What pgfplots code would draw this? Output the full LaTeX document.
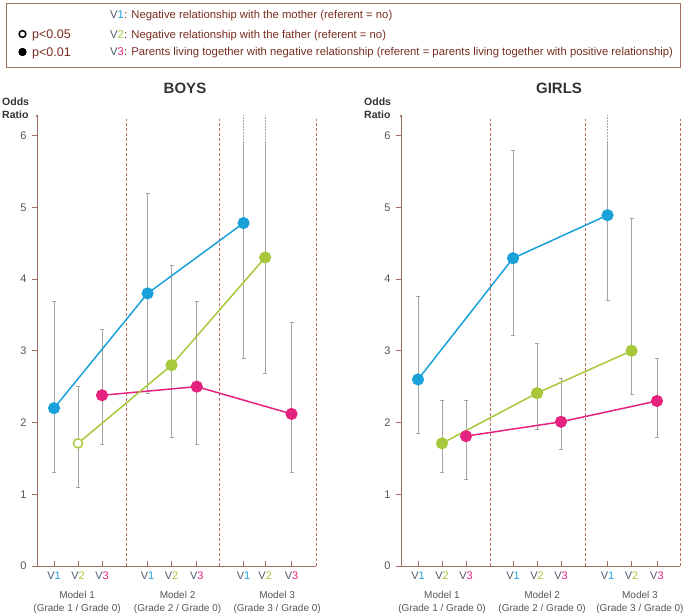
\documentclass[border=0pt]{standalone}
\usepackage{pgfplots}
\pgfplotsset{compat=1.18}
\usepackage{fontspec}
\setmainfont{Liberation Sans}
\usetikzlibrary{arrows.meta}

\definecolor{vone}{RGB}{27,161,217}
\definecolor{vtwo}{RGB}{166,200,58}
\definecolor{vthree}{RGB}{229,34,127}
\definecolor{cigray}{RGB}{165,165,165}
\definecolor{axbrown}{RGB}{160,112,95}
\definecolor{dashred}{RGB}{192,110,95}
\definecolor{legtext}{RGB}{120,45,30}
\definecolor{vgray}{RGB}{75,90,110}
\definecolor{labgray}{RGB}{85,85,85}

\newcommand{\vlab}[2]{{\color{vgray}V}{\color{#1}#2}}

\tikzset{mlab/.style={align=center, font=\fontsize{10}{13.5}\selectfont, text=labgray}}

\pgfplotsset{
  panel/.style={
    scale only axis, width=279pt, height=452pt,
    xmin=-0.71, xmax=10.92, ymin=0, ymax=6.3,
    clip=false,
    axis x line*=bottom, axis y line*=left,
    axis line style={draw=axbrown, line width=0.8pt},
    y axis line style={-{Latex[length=3pt,width=3pt]}},
    ytick={0,1,...,6},
    tick align=outside, major tick length=5pt,
    tick style={draw=axbrown, line width=0.6pt},
    xtick style={yshift=5pt},
    tick label style={font=\fontsize{11}{12}\selectfont, text=labgray},
    xticklabel style={yshift=3pt},
    yticklabel style={xshift=-2pt},
    /pgf/number format/assume math mode=true,
    xticklabels={\vlab{vone}{1},\vlab{vtwo}{2},\vlab{vthree}{3},
                 \vlab{vone}{1},\vlab{vtwo}{2},\vlab{vthree}{3},
                 \vlab{vone}{1},\vlab{vtwo}{2},\vlab{vthree}{3}},
  },
  sep/.style={dashred, line width=0.8pt, dash pattern=on 3pt off 2pt},
  ci/.style={cigray, line width=0.8pt, mark=-, mark size=2pt,
             mark options={solid, line width=0.6pt}},
  cidot/.style={cigray, line width=0.8pt, dash pattern=on 1.5pt off 1.5pt},
  ser/.style={line width=1.5pt, mark=*, mark size=5.3pt},
}

\begin{document}
\begin{tikzpicture}
\path[use as bounding box] (0pt,0pt) rectangle (685pt,-613pt);

% key box
\draw[axbrown, line width=0.6pt] (6pt,-3pt) rectangle (680pt,-67pt);
\draw[black, line width=1.5pt] (22.5pt,-34pt) circle (3.4pt);
\fill[black] (22.5pt,-52pt) circle (4.2pt);
\begin{scope}[every node/.style={anchor=base west, inner sep=0pt, text=legtext}]
\node[font=\fontsize{12.5}{14}\selectfont] at (32pt,-38.5pt) {p<0.05};
\node[font=\fontsize{12.5}{14}\selectfont] at (32pt,-56pt) {p<0.01};
\begin{scope}[every node/.append style={font=\fontsize{11.3}{13}\selectfont}]
\node at (110pt,-18pt) {\vlab{vone}{1}: Negative relationship with the mother (referent = no)};
\node at (110pt,-38pt) {\vlab{vtwo}{2}: Negative relationship with the father (referent = no)};
\node at (110pt,-55pt) {\vlab{vthree}{3}: Parents living together with negative relationship (referent = parents living together with positive relationship)};
\end{scope}
\end{scope}

% titles
\node[font=\fontsize{15}{18}\bfseries\selectfont, text=black!80] at (185pt,-88pt) {BOYS};
\node[font=\fontsize{15}{18}\bfseries\selectfont, text=black!80] at (559pt,-88pt) {GIRLS};
\begin{scope}[every node/.style={anchor=base west, inner sep=0pt, font=\fontsize{10.5}{12}\bfseries\selectfont, text=black!80}]
\node at (2pt,-105pt) {Odds};
\node at (2pt,-118pt) {Ratio};
\node at (364pt,-105pt) {Odds};
\node at (364pt,-118pt) {Ratio};
\end{scope}

% ---------------- BOYS ----------------
\begin{axis}[panel, at={(37pt,-566pt)}, anchor=south west,
  xtick={0,1,2,3.9,4.9,5.95,7.9,8.8,9.9}]
\addplot[sep] coordinates {(3,0) (3,6.23)};
\addplot[sep] coordinates {(6.9,0) (6.9,6.23)};
\addplot[sep] coordinates {(10.92,0) (10.92,6.23)};

\addplot[ci, unbounded coords=jump] coordinates {
  (0,1.3) (0,3.69) (0,nan)
  (1,1.1) (1,2.5) (1,nan)
  (2,1.7) (2,3.3) (2,nan)
  (3.9,2.41) (3.9,5.2) (3.9,nan)
  (4.9,1.8) (4.9,4.19) (4.9,nan)
  (5.95,1.7) (5.95,3.69) (5.95,nan)
  (9.9,1.3) (9.9,3.4)
};
\addplot[ci, mark indices={1}] coordinates {(7.9,2.9) (7.9,5.9)};
\addplot[ci, mark indices={1}] coordinates {(8.8,2.69) (8.8,5.9)};
\addplot[cidot] coordinates {(7.9,5.9) (7.9,6.28)};
\addplot[cidot] coordinates {(8.8,5.9) (8.8,6.28)};

\addplot[ser, vthree] coordinates {(2,2.38) (5.95,2.5) (9.9,2.12)};
\addplot[ser, vtwo] coordinates {(4.9,2.8) (8.8,4.3)};
\addplot[vtwo, line width=1.5pt, shorten <=5.3pt] coordinates {(1,1.71) (4.9,2.8)};
\addplot[vtwo, line width=1.4pt, mark=*, mark size=4.6pt,
  mark options={fill=white}, only marks] coordinates {(1,1.71)};
\addplot[ser, vone] coordinates {(0,2.2) (3.9,3.8) (7.9,4.78)};

\node[mlab] at (axis cs:0.96,-0.51) {Model 1\\(Grade 1 / Grade 0)};
\node[mlab] at (axis cs:5.15,-0.51) {Model 2\\(Grade 2 / Grade 0)};
\node[mlab] at (axis cs:9.3,-0.51) {Model 3\\(Grade 3 / Grade 0)};
\end{axis}

% ---------------- GIRLS ----------------
\begin{axis}[panel, at={(401pt,-566pt)}, anchor=south west,
  xtick={0,1,2,3.96,4.96,5.96,7.9,8.9,9.96}]
\addplot[sep] coordinates {(3,0) (3,6.23)};
\addplot[sep] coordinates {(6.96,0) (6.96,6.23)};
\addplot[sep] coordinates {(10.92,0) (10.92,6.23)};

\addplot[ci, unbounded coords=jump] coordinates {
  (0,1.85) (0,3.76) (0,nan)
  (1,1.31) (1,2.31) (1,nan)
  (2,1.21) (2,2.31) (2,nan)
  (3.96,3.22) (3.96,5.8) (3.96,nan)
  (4.96,1.91) (4.96,3.11) (4.96,nan)
  (5.96,1.63) (5.96,2.62) (5.96,nan)
  (8.9,2.4) (8.9,4.85) (8.9,nan)
  (9.96,1.8) (9.96,2.9)
};
\addplot[ci, mark indices={1}] coordinates {(7.9,3.71) (7.9,5.9)};
\addplot[cidot] coordinates {(7.9,5.9) (7.9,6.28)};

\addplot[ser, vthree] coordinates {(2,1.81) (5.96,2.01) (9.96,2.3)};
\addplot[ser, vtwo] coordinates {(1,1.71) (4.96,2.41) (8.9,3.0)};
\addplot[ser, vone] coordinates {(0,2.6) (3.96,4.29) (7.9,4.89)};

\node[mlab] at (axis cs:1,-0.51) {Model 1\\(Grade 1 / Grade 0)};
\node[mlab] at (axis cs:5.17,-0.51) {Model 2\\(Grade 2 / Grade 0)};
\node[mlab] at (axis cs:9.25,-0.51) {Model 3\\(Grade 3 / Grade 0)};
\end{axis}
\end{tikzpicture}
\end{document}
